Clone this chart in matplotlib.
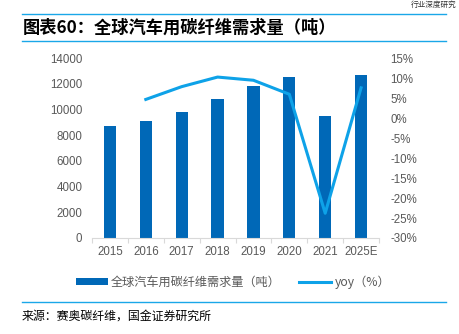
import matplotlib
matplotlib.use("Agg")
import matplotlib.pyplot as plt
from matplotlib.lines import Line2D
from matplotlib.patches import Patch
import numpy as np

plt.rcParams['font.family'] = ['Liberation Sans', 'Noto Sans CJK SC', 'DejaVu Sans']

years = ["2015", "2016", "2017", "2018", "2019", "2020", "2021", "2025E"]
demand = [8700, 9100, 9800, 10800, 11850, 12550, 9540, 12690]
yoy_years = ["2016", "2017", "2018", "2019", "2020", "2021", "2025E"]
yoy = [4.7, 7.9, 10.3, 9.5, 6.0, -23.8, 7.6]
left_ticks = [0, 2000, 4000, 6000, 8000, 10000, 12000, 14000]
right_ticks = [-30, -25, -20, -15, -10, -5, 0, 5, 10, 15]

title = "图表60：全球汽车用碳纤维需求量（吨）"
source = "来源：赛奥碳纤维，国金证券研究所"
bar_label = "全球汽车用碳纤维需求量（吨）"
line_label = "yoy（%）"
header = "行业深度研究"

W, H = 459, 334
fig = plt.figure(figsize=(W / 100, H / 100), dpi=100)

bar_color = "#0068B7"
line_color = "#0EA2E8"
rule_color = "#1AA7E8"
tick_color = "#595959"
cjk = ['Noto Sans CJK SC', 'DejaVu Sans']

ax = fig.add_axes([92 / W, 1 - 238 / H, (379 - 92) / W, (238 - 58.3) / H])
x = np.arange(len(years))
ax.bar(x, demand, width=0.34, color=bar_color, zorder=2)
ax.set_xlim(-0.5, len(years) - 0.5)
ax.set_ylim(0, 14000)
ax.set_yticks(left_ticks)
ax.set_yticklabels([str(v) for v in left_ticks])
ax.set_xticks(x)
ax.set_xticklabels(years)
ax.set_xticks(np.arange(-0.5, len(years)), minor=True)
ax.tick_params(axis='x', which='major', length=0, pad=6, labelsize=8.3, labelcolor=tick_color)
ax.tick_params(axis='x', which='minor', length=3.5, color="#D9D9D9", width=0.8)
ax.tick_params(axis='y', length=0, pad=7, labelsize=8.3, labelcolor=tick_color)
for s in ['top', 'right', 'left']:
    ax.spines[s].set_visible(False)
ax.spines['bottom'].set_color("#D9D9D9")
ax.spines['bottom'].set_linewidth(0.8)

ax2 = ax.twinx()
xi = [years.index(y) for y in yoy_years]
ax2.plot(xi, yoy, color=line_color, linewidth=2.2, zorder=3)
ax2.set_ylim(-30, 15)
ax2.set_yticks(right_ticks)
ax2.set_yticklabels([f"{v}%" for v in right_ticks])
ax2.tick_params(axis='y', length=0, pad=8, labelsize=8.3, labelcolor=tick_color)
for s in ['top', 'right', 'left', 'bottom']:
    ax2.spines[s].set_visible(False)

# legend
handles = [Patch(facecolor=bar_color, edgecolor='none'),
           Line2D([0], [0], color=line_color, linewidth=2.2)]
leg = fig.legend(handles, [bar_label, line_label], loc='center',
                 bbox_to_anchor=(233 / W, 1 - 282 / H), ncol=2, frameon=False,
                 prop={'family': cjk, 'size': 8.75}, handlelength=2.6,
                 handleheight=0.55, handletextpad=0.3, columnspacing=1.5,
                 borderpad=0, borderaxespad=0)
for t in leg.get_texts():
    t.set_color(tick_color)

# title and rules
fig.add_artist(Line2D([22 / W, 446 / W], [1 - 14.3 / H] * 2, color=rule_color, linewidth=1.0))
fig.add_artist(Line2D([22 / W, 446 / W], [1 - 40.5 / H] * 2, color=rule_color, linewidth=1.0))
fig.add_artist(Line2D([22 / W, 446 / W], [1 - 302 / H] * 2, color=rule_color, linewidth=1.0))
fig.text(23 / W, 1 - 27.5 / H, title, fontsize=12.4, fontweight='bold', style='italic',
         family=cjk, color="#000000", va='center', ha='left')
fig.text(22 / W, 1 - 316 / H, source, fontsize=8.6, family=cjk, color="#000000",
         va='center', ha='left')
fig.text(457 / W, 1 - 4.5 / H, header, fontsize=5.5, family=cjk, color="#333333",
         va='center', ha='right')

fig.savefig("out.png", dpi=100)
